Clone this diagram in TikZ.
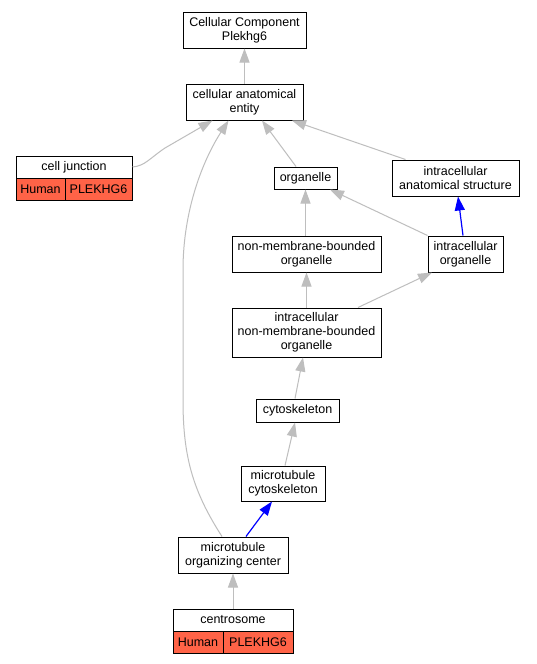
\documentclass[tikz,border=0pt]{standalone}
\usepackage{fontspec}
\setmainfont{Liberation Sans}
\usetikzlibrary{arrows.meta,calc}
\definecolor{edgegray}{RGB}{190,190,190}
\definecolor{recred}{RGB}{255,99,71}
\begin{document}
\begin{tikzpicture}[x=1pt,y=-1pt,
  box/.style={draw=black,line width=1pt,fill=white,inner sep=0pt,align=center,font=\fontsize{12.5}{14}\selectfont},
  cell/.style={draw=black,line width=1pt,fill=recred,inner sep=0pt,align=center,font=\fontsize{12.5}{14}\selectfont},
  isa/.style={draw=edgegray,line width=1pt,-{Triangle[length=14pt,width=10pt]}},
  partof/.style={draw=blue,line width=1.2pt,-{Triangle[length=14pt,width=10pt]}}]
\useasboundingbox[fill=white] (0,0) rectangle (536,664);
% nodes
\node[box,minimum width=123pt,minimum height=36pt] (ccp) at (244.5,30) {Cellular Component\\Plekhg6};
\node[box,minimum width=117pt,minimum height=36pt] (cae) at (244.5,102) {cellular anatomical\\entity};
\node[box,minimum width=116pt,minimum height=22pt] (cjt) at (74,167) {cell junction};
\node[cell,minimum width=49pt,minimum height=22pt] (cjh) at (40.5,189) {Human};
\node[cell,minimum width=67pt,minimum height=22pt] (cjg) at (98.5,189) {PLEKHG6};
\node[box,minimum width=63pt,minimum height=22pt] (org) at (305.5,178) {organelle};
\node[box,minimum width=127pt,minimum height=36pt] (ias) at (455.5,178) {intracellular\\anatomical structure};
\node[box,minimum width=149pt,minimum height=36pt] (nmbo) at (306.5,254) {non-membrane-bounded\\organelle};
\node[box,minimum width=75pt,minimum height=36pt] (io) at (465.5,254) {intracellular\\organelle};
\node[box,minimum width=149pt,minimum height=49pt] (inmbo) at (306.5,332.5) {intracellular\\non-membrane-bounded\\organelle};
\node[box,minimum width=83pt,minimum height=23pt] (cyto) at (297.5,410.5) {cytoskeleton};
\node[box,minimum width=84pt,minimum height=35pt] (mtc) at (283,483.5) {microtubule\\cytoskeleton};
\node[box,minimum width=110pt,minimum height=36pt] (mtoc) at (233,555) {microtubule\\organizing center};
\node[box,minimum width=120pt,minimum height=22pt] (cst) at (233,620) {centrosome};
\node[cell,minimum width=50pt,minimum height=22pt] (csh) at (198,642) {Human};
\node[cell,minimum width=70pt,minimum height=22pt] (csg) at (258,642) {PLEKHG6};
% edges
\draw[isa] (cae.north) -- (ccp.south);
\draw[isa] (cjt.east) .. controls (145,166) and (150,158) .. (165,148) -- ([xshift=-32pt]cae.south);
\draw[isa] ([xshift=-11pt]mtoc.north) .. controls (192,490) and (183,455) .. (183,400) -- (183,270) .. controls (183,210) and (203,160) .. ([xshift=-16pt]cae.south);
\draw[isa] ([xshift=-9.5pt]org.north) -- ([xshift=17.5pt]cae.south);
\draw[isa] ([xshift=-50pt]ias.north) -- ([xshift=47.5pt]cae.south);
\draw[isa] (nmbo.north -| org.south) -- (org.south);
\draw[isa] (io.north west) -- ([xshift=24.5pt]org.south);
\draw[partof] ([xshift=-2.5pt]io.north) -- ([xshift=2.5pt]ias.south);
\draw[isa] (inmbo.north) -- (nmbo.south);
\draw[isa] ([xshift=51.5pt]inmbo.north) -- ([xshift=-33.5pt]io.south);
\draw[isa] ([xshift=-2.5pt]cyto.north) -- ([xshift=-3.5pt]inmbo.south);
\draw[isa] ([xshift=2pt]mtc.north) -- ([xshift=-2.5pt]cyto.south);
\draw[partof] ([xshift=13pt]mtoc.north) -- ([xshift=-11pt]mtc.south);
\draw[isa] (cst.north) -- (mtoc.south);
\end{tikzpicture}
\end{document}
